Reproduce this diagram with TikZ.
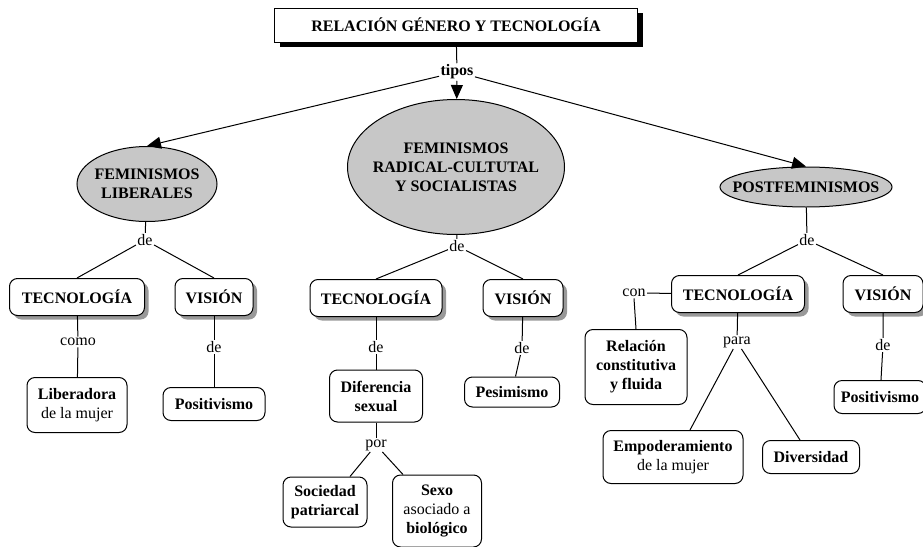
\documentclass[tikz,border=0pt]{standalone}
\usepackage{fontspec}
\setmainfont{Liberation Serif}
\usetikzlibrary{shapes.geometric,shadows,arrows.meta}

\tikzset{
  titulo/.style={draw, fill=white, font=\bfseries, minimum width=363pt, minimum height=34pt,
    general shadow={shadow xshift=5pt, shadow yshift=-5pt, fill=black}},
  tipo/.style={ellipse, draw, fill=black!22, font=\bfseries, align=center, inner sep=0pt},
  concepto/.style={draw, fill=white, rounded corners=8pt, font=\bfseries, minimum height=37pt,
    general shadow={shadow xshift=4pt, shadow yshift=-4pt, fill=black!40}},
  hoja/.style={draw, fill=white, rounded corners=8pt, font=\bfseries, align=center, inner sep=2pt},
  enlace/.style={inner sep=1pt},
  flecha/.style={-{Triangle[length=14pt,width=12pt]}}
}

\begin{document}
\fontsize{16}{19}\selectfont
\begin{tikzpicture}[x=1pt, y=-1pt, line width=1pt]
\useasboundingbox (0,0) rectangle (923,546);

% Title
\node[titulo] (rel) at (456,25) {RELACIÓN GÉNERO Y TECNOLOGÍA};
\node[enlace, font=\bfseries] (tipos) at (457,72) {tipos};

% Types
\node[tipo, inner xsep=-3pt, minimum width=140pt, minimum height=75pt] (fl) at (147,184) {FEMINISMOS\\LIBERALES};
\node[tipo, inner xsep=-7pt, minimum width=217pt, minimum height=135pt] (fr) at (456,167) {FEMINISMOS\\RADICAL-CULTUTAL\\Y SOCIALISTAS};
\node[tipo, inner xsep=-18pt, minimum width=172pt, minimum height=40pt] (pf) at (806,187) {POSTFEMINISMOS};

\draw (rel) -- (tipos);
\draw[flecha] (tipos) -- (fl.north);
\draw[flecha] (tipos) -- (fr);
\draw[flecha] (tipos) -- (pf.north);

% Feminismos liberales
\node[enlace] (deL) at (145,240) {de};
\node[concepto, minimum width=135pt] (tecL) at (77,297) {TECNOLOGÍA};
\node[concepto, minimum width=78pt] (visL) at (214,297) {VISIÓN};
\node[enlace] (comoL) at (78,342) {como};
\node[hoja, minimum width=100pt, minimum height=55pt] (libL) at (77,405) {Liberadora\\{\mdseries de la mujer}};
\node[enlace] (deL2) at (214,347) {de};
\node[hoja, minimum width=102pt, minimum height=33pt] (posL) at (214,404) {Positivismo};

\draw (fl) -- (deL);
\draw (deL) -- (tecL.north);
\draw (deL) -- (visL.north);
\draw (tecL) -- (comoL) -- (libL);
\draw (visL) -- (deL2) -- (posL);

% Feminismos radical-cultural y socialistas
\node[enlace] (deC) at (457,246) {de};
\node[concepto, minimum width=132pt] (tecC) at (376,298) {TECNOLOGÍA};
\node[concepto, minimum width=80pt] (visC) at (523,298) {VISIÓN};
\node[enlace] (deC2) at (376,347) {de};
\node[hoja, minimum width=93pt, minimum height=52pt] (dif) at (376,396) {Diferencia\\sexual};
\node[enlace] (por) at (376,445) {por};
\node[hoja, minimum width=84pt, minimum height=50pt] (soc) at (325,502) {Sociedad\\patriarcal};
\node[hoja, minimum width=89pt, minimum height=72pt] (sexo) at (437,511) {Sexo\\{\mdseries asociado a}\\biológico};
\node[enlace] (deC3) at (522,348) {de};
\node[hoja, minimum width=95pt, minimum height=30pt] (pes) at (512,392) {Pesimismo};

\draw (fr) -- (deC);
\draw (deC) -- (tecC.north);
\draw (deC) -- (visC.north);
\draw (tecC) -- (deC2) -- (dif);
\draw (dif) -- (por);
\draw (por) -- ([xshift=25pt]soc.north);
\draw (por) -- ([xshift=-34pt]sexo.north);
\draw (visC) -- (deC3) -- (pes);

% Postfeminismos
\node[enlace] (deR) at (807,240) {de};
\node[concepto, minimum width=133pt] (tecR) at (738,294) {TECNOLOGÍA};
\node[concepto, minimum width=80pt] (visR) at (883,294) {VISIÓN};
\node[enlace] (con) at (634,293) {con};
\node[hoja, minimum width=102pt, minimum height=75pt] (rel2) at (636,367) {Relación\\constitutiva\\y fluida};
\node[enlace] (para) at (737,342) {para};
\node[hoja, minimum width=140pt, minimum height=53pt] (emp) at (673,457) {Empoderamiento\\{\mdseries de la mujer}};
\node[hoja, minimum width=97pt, minimum height=33pt] (div) at (811,457) {Diversidad};
\node[enlace] (deR2) at (883,345) {de};
\node[hoja, minimum width=92pt, minimum height=33pt] (posR) at (880,397) {Positivismo};

\draw (pf) -- (deR);
\draw (deR) -- (tecR.north);
\draw (deR) -- (visR.north);
\draw (tecR) -- (con);
\draw (con.south) -- (rel2.north);
\draw (tecR) -- (para);
\draw (para) -- ([xshift=17pt]emp.north);
\draw (para) -- ([xshift=-11pt]div.north);
\draw (visR) -- (deR2) -- (posR);

\end{tikzpicture}
\end{document}
